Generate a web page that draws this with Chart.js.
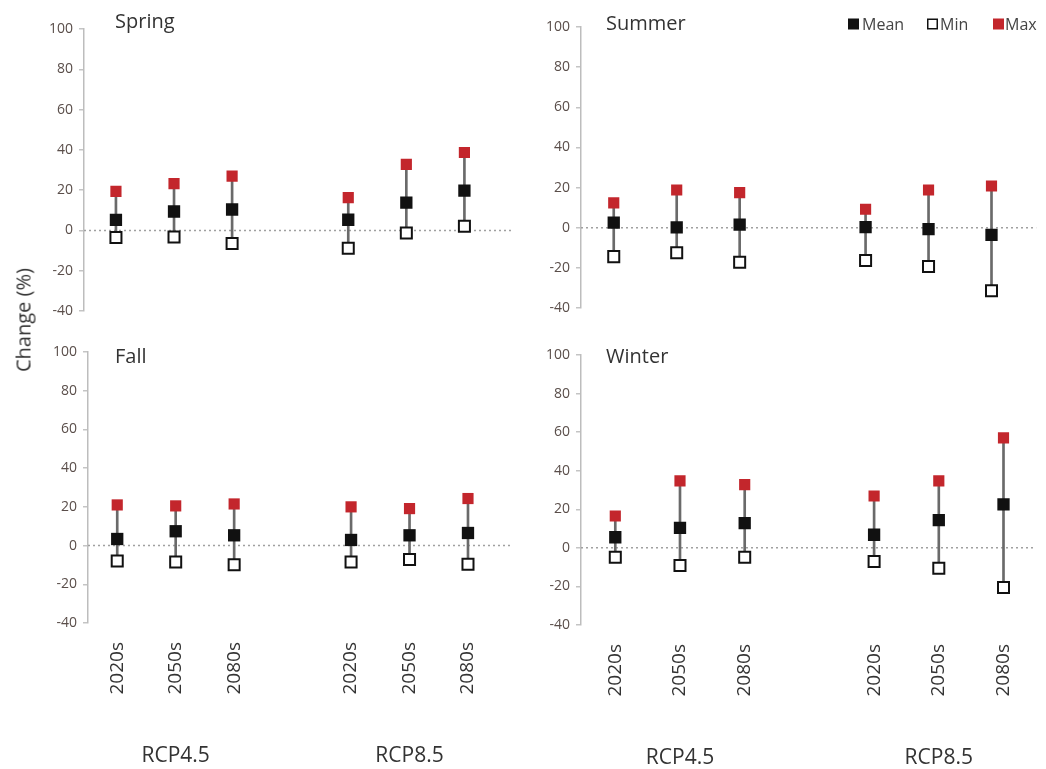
<!DOCTYPE html>
<html><head><meta charset="utf-8">
<script src="https://cdn.jsdelivr.net/npm/chart.js@4.4.1/dist/chart.umd.min.js"></script>
<style>
html,body{margin:0;padding:0;background:#fff;width:1046px;height:769px;overflow:hidden;}
#wrap{position:relative;width:1046px;height:769px;font-family:'Open Sans',sans-serif;}
.panel{position:absolute;}
.panel canvas{display:block;}
#ytitle{position:absolute;left:23px;top:320px;transform:translate(-50%,-50%) rotate(-90deg);font-size:20px;color:#333;white-space:nowrap;z-index:5;}
</style></head>
<body><div id="wrap">
<div class="panel" id="p0" style="left:0;top:0;width:523px;height:330px"><canvas id="c0"></canvas></div>
<div class="panel" id="p1" style="left:523px;top:0;width:523px;height:330px"><canvas id="c1"></canvas></div>
<div class="panel" id="p2" style="left:0;top:330px;width:523px;height:439px"><canvas id="c2"></canvas></div>
<div class="panel" id="p3" style="left:523px;top:330px;width:523px;height:439px"><canvas id="c3"></canvas></div>
<div id="ytitle">Change (%)</div>
</div>
<script>
// ---------- data ----------
const periods = ['2020s','2050s','2080s','2020s','2050s','2080s'];
const periodPositions = [0, 1, 2, 4, 5, 6];
const scenarios = ['RCP4.5','RCP8.5'];
const scenarioPositions = [1, 5];
const seasons = ['Spring','Summer','Fall','Winter'];
const seriesNames = ['Mean','Min','Max'];
const yTickValues = [-40, -20, 0, 20, 40, 60, 80, 100];

const springMean = [5.2, 9.4, 10.4, 5.3, 13.8, 19.8];
const springMin  = [-3.5, -3.3, -6.5, -8.8, -1.3, 2.1];
const springMax  = [19.4, 23.2, 27.0, 16.3, 32.8, 38.7];

const summerMean = [2.5, 0.2, 1.5, 0.3, -0.7, -3.6];
const summerMin  = [-14.4, -12.5, -17.2, -16.3, -19.3, -31.4];
const summerMax  = [12.4, 18.8, 17.5, 9.2, 18.8, 20.8];

const fallMean = [3.4, 7.4, 5.3, 2.9, 5.3, 6.5];
const fallMin  = [-8.0, -8.5, -9.9, -8.5, -7.2, -9.7];
const fallMax  = [21.0, 20.5, 21.5, 20.0, 19.1, 24.3];

const winterMean = [5.5, 10.4, 12.8, 6.8, 14.4, 22.5];
const winterMin  = [-4.9, -9.2, -4.9, -7.1, -10.6, -20.5];
const winterMax  = [16.5, 34.7, 32.8, 26.9, 34.7, 57.0];

const seasonData = [
  [springMean, springMin, springMax],
  [summerMean, summerMin, summerMax],
  [fallMean, fallMin, fallMax],
  [winterMean, winterMin, winterMax]
];

// ---------- layout / style ----------
const FONT = "'Open Sans', sans-serif";
const RED = '#c3262c';
const panels = [
  {canvas:'c0', left:0,   top:0,   pad:{left:34, top:29, right:8,  bottom:19}, xmin:-0.55, xmax:6.84, showX:false, titleX:115, titleY:28},
  {canvas:'c1', left:523, top:0,   pad:{left:8,  top:27, right:6,  bottom:22}, xmin:-0.52, xmax:6.71, showX:false, titleX:606, titleY:30, legend:true},
  {canvas:'c2', left:0,   top:330, pad:{left:38, top:22, right:10, bottom:46}, xmin:-0.50, xmax:6.77, showX:true,  titleX:115, titleY:363},
  {canvas:'c3', left:523, top:330, pad:{left:8,  top:25, right:4,  bottom:44}, xmin:-0.53, xmax:6.50, showX:true,  titleX:606, titleY:363}
];
const legendItems = [
  {x:848, textX:862},
  {x:927, textX:940},
  {x:993, textX:1005}
];
const markerStyles = [
  {bg:'#111111', border:'#111111', bw:0, r:8.7},
  {bg:'#ffffff', border:'#111111', bw:2, r:7.8},
  {bg:RED, border:RED, bw:0, r:7.9}
];

const zeroLinePlugin = {
  id:'zeroLine',
  beforeDatasetsDraw(chart){
    const {ctx, chartArea, scales} = chart;
    const y = scales.y.getPixelForValue(0);
    ctx.save();
    ctx.strokeStyle = '#a0a0a0';
    ctx.lineWidth = 1.5;
    ctx.setLineDash([2, 3]);
    ctx.beginPath();
    ctx.moveTo(chartArea.left, y);
    ctx.lineTo(chartArea.right, y);
    ctx.stroke();
    ctx.restore();
  }
};

const decorPlugin = {
  id:'decor',
  afterDraw(chart, args, opts){
    const {ctx, chartArea, scales} = chart;
    const p = opts.panel;
    ctx.save();
    // panel title
    ctx.fillStyle = '#333';
    ctx.font = '20px ' + FONT;
    ctx.textAlign = 'left';
    ctx.textBaseline = 'alphabetic';
    ctx.fillText(opts.title, p.titleX - p.left, p.titleY - p.top);
    // scenario group labels
    if (p.showX) {
      ctx.font = '21px ' + FONT;
      ctx.textAlign = 'center';
      scenarios.forEach((s, i) => {
        const x = scales.x.getPixelForValue(scenarioPositions[i]);
        ctx.fillText(s, x, chartArea.bottom + 139);
      });
    }
    // legend
    if (p.legend) {
      ctx.font = '16px ' + FONT;
      ctx.textAlign = 'left';
      ctx.textBaseline = 'middle';
      const cy = 24 - p.top;
      seriesNames.forEach((name, i) => {
        const st = markerStyles[i];
        const lx = legendItems[i].x - p.left;
        const s = 11;
        ctx.fillStyle = st.bg;
        ctx.fillRect(lx, cy - s/2, s, s);
        if (st.bw) {
          ctx.strokeStyle = st.border;
          ctx.lineWidth = 1.5;
          ctx.strokeRect(lx + 0.75, cy - s/2 + 0.75, s - 1.5, s - 1.5);
        }
        ctx.fillStyle = '#444';
        ctx.fillText(name, legendItems[i].textX - p.left, cy + 1);
      });
    }
    ctx.restore();
  }
};

panels.forEach((p, k) => {
  const [mean, mn, mx] = seasonData[k];
  const series = [mean, mn, mx];
  const pointSets = seriesNames.map((name, i) => ({
    type:'scatter',
    label:name,
    data: periodPositions.map((x, j) => ({x, y: series[i][j]})),
    pointStyle:'rect',
    pointRadius: markerStyles[i].r,
    pointHoverRadius: markerStyles[i].r,
    backgroundColor: markerStyles[i].bg,
    borderColor: markerStyles[i].border,
    borderWidth: markerStyles[i].bw,
    order: 3 - i + (i === 1 ? 2 : 0)
  }));
  const rangeSet = {
    type:'bar',
    label:'Range',
    data: periodPositions.map((x, j) => ({x, y:[mn[j], mx[j]]})),
    backgroundColor:'#6a6a6a',
    borderWidth:0,
    barThickness:2,
    order:10
  };
  new Chart(document.getElementById(p.canvas), {
    type:'scatter',
    data:{datasets:[rangeSet, ...pointSets]},
    options:{
      responsive:true,
      maintainAspectRatio:false,
      animation:false,
      events:[],
      layout:{padding:p.pad},
      plugins:{
        legend:{display:false},
        tooltip:{enabled:false},
        decor:{title:seasons[k], panel:p}
      },
      scales:{
        x:{
          type:'linear',
          min:p.xmin, max:p.xmax,
          offset:false,
          display:p.showX,
          grid:{display:false, drawTicks:false},
          border:{display:false},
          afterBuildTicks:(s) => { s.ticks = periodPositions.map(v => ({value:v})); },
          afterFit:(s) => { if (p.showX) s.height = 100; },
          ticks:{
            autoSkip:false,
            minRotation:90, maxRotation:90,
            padding:19,
            color:'#333',
            font:{family:FONT, size:19},
            callback:(v) => { const i = periodPositions.indexOf(v); return i >= 0 ? periods[i] : ''; }
          }
        },
        y:{
          type:'linear',
          min:-40, max:100,
          afterBuildTicks:(s) => { s.ticks = yTickValues.map(v => ({value:v})); },
          afterFit:(s) => { s.width = 50; },
          grid:{drawOnChartArea:false, drawTicks:true, tickLength:5, color:'#c4c4c4', lineWidth:1.5},
          border:{display:true, color:'#bdbdbd', width:1.5},
          ticks:{
            padding:6,
            color:'#5a4e4a',
            font:{family:FONT, size:14}
          }
        }
      }
    },
    plugins:[zeroLinePlugin, decorPlugin]
  });
});
</script>
</body></html>
